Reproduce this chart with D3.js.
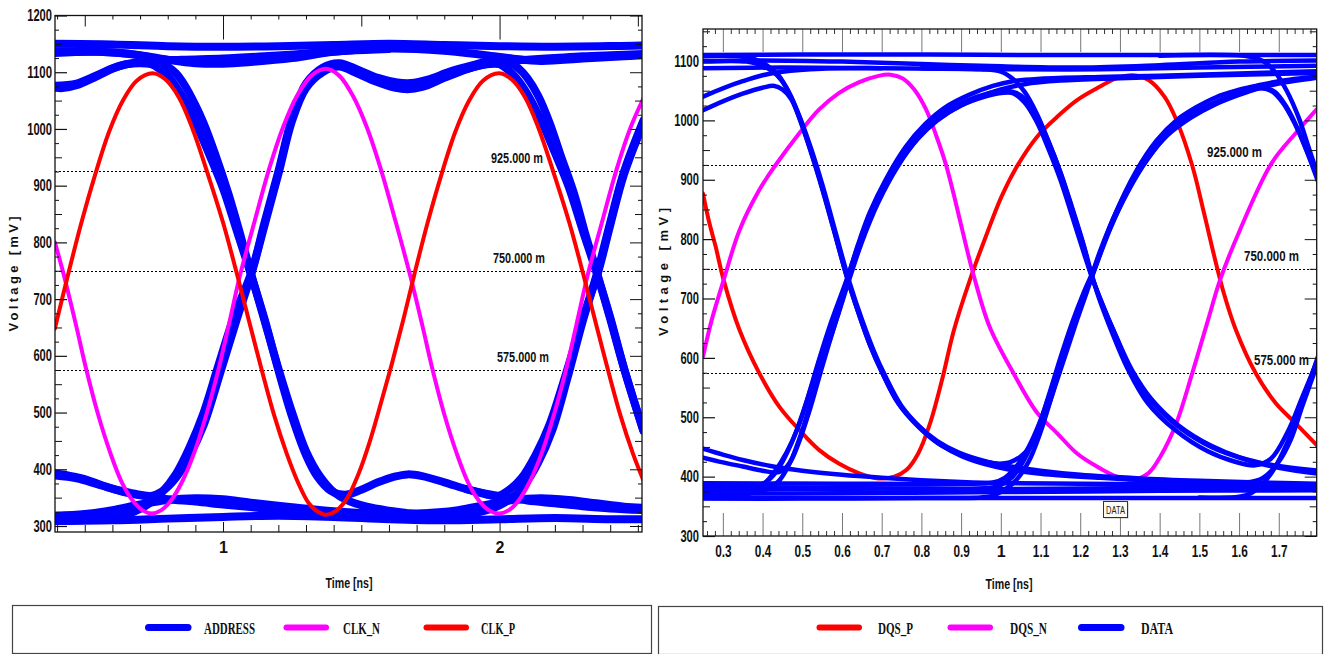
<!DOCTYPE html>
<html><head><meta charset="utf-8">
<script src="https://cdn.jsdelivr.net/npm/d3@7"></script>
<style>
body{margin:0;background:#fff;}
svg{display:block;}
</style></head><body>
<svg id="chart" width="1325" height="654"></svg>
<script>
// ---------------- DATA ----------------
const leftTimeTicks = [1, 2];
const leftVoltTicks = [300, 400, 500, 600, 700, 800, 900, 1000, 1100, 1200];
const rightTimeTicks = [0.3, 0.4, 0.5, 0.6, 0.7, 0.8, 0.9, 1, 1.1, 1.2, 1.3, 1.4, 1.5, 1.6, 1.7];
const rightVoltTicks = [300, 400, 500, 600, 700, 800, 900, 1000, 1100];
const refLevels = [925, 750, 575];
const refLabels = ["925.000 m", "750.000 m", "575.000 m"];
const leftLegend = ["ADDRESS", "CLK_N", "CLK_P"];
const rightLegend = ["DQS_P", "DQS_N", "DATA"];
const xTitle = "Time [ns]";
const yTitle = "Voltage [mV]";
const markerLabel = "DATA";

// left chart: [time ns, voltage mV]
const clkP = [[0.392,648],[0.438,740],[0.488,835],[0.538,920],[0.588,995],[0.638,1050],[0.688,1085],[0.745,1098],[0.79,1088],[0.84,1056],[0.89,1000],[0.94,928],[1.0,835],[1.05,745],[1.1,650],[1.14,575],[1.185,495],[1.23,428],[1.27,378],[1.31,340],[1.34,326],[1.371,320],[1.41,327],[1.45,350],[1.49,392],[1.53,448],[1.57,515],[1.61,585],[1.65,660],[1.69,740],[1.74,835],[1.79,920],[1.84,995],[1.89,1050],[1.94,1085],[1.997,1098],[2.042,1088],[2.092,1056],[2.142,1000],[2.192,928],[2.252,835],[2.302,745],[2.352,650],[2.392,575],[2.437,495],[2.482,428],[2.522,378]];
const clkN = [[0.392,800],[0.423,745],[0.468,655],[0.506,575],[0.548,497],[0.593,428],[0.633,378],[0.673,345],[0.708,328],[0.742,322],[0.777,328],[0.812,345],[0.852,378],[0.895,428],[0.94,497],[0.983,575],[1.021,655],[1.063,745],[1.113,835],[1.167,930],[1.217,1003],[1.267,1058],[1.32,1094],[1.371,1106],[1.42,1094],[1.47,1058],[1.52,1003],[1.57,930],[1.625,835],[1.675,745],[1.72,655],[1.758,575],[1.8,497],[1.845,428],[1.885,378],[1.925,345],[1.96,328],[1.997,322],[2.034,328],[2.069,345],[2.109,378],[2.152,428],[2.197,497],[2.24,575],[2.278,655],[2.32,745],[2.37,835],[2.424,930],[2.474,1003],[2.524,1058]];
const addressTraces = [
  [[0.39,1150],[0.6,1149],[0.8,1146],[1.0,1145],[1.2,1146],[1.4,1148],[1.6,1150],[1.8,1148],[2.0,1146],[2.2,1145],[2.52,1147]],
  [[0.39,1134],[0.55,1136],[0.7,1130],[0.8,1122],[0.9,1116],[1.0,1115],[1.1,1118],[1.25,1125],[1.4,1136],[1.6,1142],[1.8,1138],[1.95,1130],[2.05,1124],[2.15,1120],[2.3,1124],[2.45,1128],[2.52,1130]],
  [[0.39,309],[0.6,310],[0.8,313],[1.0,316],[1.2,318],[1.4,316],[1.6,312],[1.8,310],[2.0,312],[2.2,314],[2.4,312],[2.52,312]],
  [[0.39,318],[0.5,321],[0.6,328],[0.7,338],[0.8,346],[0.9,349],[1.0,347],[1.1,341],[1.25,333],[1.4,326],[1.55,322],[1.7,322],[1.85,328],[1.95,337],[2.05,346],[2.15,349],[2.25,346],[2.35,340],[2.45,334],[2.52,332]],
  [[0.39,1073],[0.42,1072],[0.47,1077],[0.54,1092],[0.6,1106],[0.65,1114],[0.7,1116],[0.74,1114],[0.77,1106],[0.8,1094],[0.83,1075],[0.87,1042],[0.9,1012],[0.95,955],[1.0,895],[1.05,820],[1.103,740],[1.15,665],[1.2,575],[1.25,492],[1.3,425],[1.34,388],[1.39,362],[1.44,355],[1.5,364],[1.56,377],[1.62,387],[1.667,391],[1.72,388],[1.8,377],[1.88,365],[1.95,356],[1.99,352],[2.03,362],[2.08,385],[2.13,425],[2.18,478],[2.24,568],[2.3,665],[2.355,745],[2.4,830],[2.45,920],[2.52,1010]],
  [[0.39,392],[0.42,391],[0.47,386],[0.51,381],[0.55,374],[0.6,366],[0.65,360],[0.7,355],[0.74,353],[0.78,361],[0.83,385],[0.88,425],[0.93,478],[0.99,570],[1.05,665],[1.103,745],[1.15,830],[1.2,920],[1.25,1015],[1.3,1072],[1.36,1100],[1.42,1110],[1.48,1099],[1.55,1084],[1.62,1073],[1.667,1070],[1.72,1074],[1.8,1090],[1.88,1105],[1.95,1114],[2.0,1114],[2.03,1104],[2.06,1090],[2.1,1062],[2.15,1015],[2.2,958],[2.25,898],[2.3,822],[2.355,740],[2.4,668],[2.45,578],[2.52,468]],
  [[0.39,1137],[0.55,1136],[0.68,1131],[0.75,1124],[0.8,1110],[0.83,1098],[0.86,1078],[0.9,1042],[0.93,1010],[0.97,958],[1.02,885],[1.06,818],[1.103,742],[1.15,662],[1.2,578],[1.25,500],[1.3,432],[1.35,388],[1.4,360],[1.45,345],[1.52,334],[1.6,327],[1.7,321],[1.8,318],[1.9,322],[1.98,332],[2.04,348],[2.09,372],[2.14,412],[2.19,468],[2.245,560],[2.3,660],[2.355,750],[2.4,835],[2.45,925],[2.52,1015]],
  [[0.39,309],[0.55,312],[0.65,320],[0.7,330],[0.74,342],[0.78,360],[0.83,392],[0.88,440],[0.93,500],[0.98,578],[1.04,670],[1.103,748],[1.15,835],[1.2,925],[1.25,1020],[1.3,1080],[1.36,1108],[1.42,1116],[1.49,1104],[1.56,1090],[1.63,1082],[1.68,1081],[1.74,1087],[1.82,1101],[1.9,1112],[1.97,1120],[2.04,1116],[2.07,1106],[2.1,1090],[2.14,1058],[2.18,1012],[2.22,955],[2.27,885],[2.31,815],[2.355,742],[2.4,665],[2.45,578],[2.52,468]],
  [[0.39,389],[0.47,384],[0.55,373],[0.65,359],[0.74,351],[0.8,347],[0.9,343],[1.0,338],[1.15,331],[1.3,325],[1.45,320],[1.6,317]],
  [[0.39,1076],[0.47,1080],[0.54,1094],[0.6,1107],[0.65,1114],[0.72,1119],[0.85,1122],[1.0,1124],[1.15,1128],[1.3,1133],[1.45,1138],[1.6,1141]],
  [[1.88,365],[1.95,357],[2.02,351],[2.1,345],[2.2,340],[2.3,335],[2.4,331],[2.52,328]],
  [[1.88,1106],[1.95,1114],[2.02,1119],[2.1,1122],[2.2,1125],[2.3,1128],[2.4,1130],[2.52,1132]]
];

// right chart: [time ns, voltage mV]
const dqsP = [[0.25,877],[0.265,830],[0.282,787],[0.302,731],[0.342,647],[0.392,574],[0.442,518],[0.492,479],[0.542,445],[0.592,422],[0.642,406],[0.692,397],[0.732,400],[0.762,411],[0.792,439],[0.822,490],[0.852,563],[0.882,647],[0.922,731],[0.962,804],[1.002,872],[1.042,924],[1.092,973],[1.142,1006],[1.192,1034],[1.242,1054],[1.292,1071],[1.332,1076],[1.372,1068],[1.412,1040],[1.442,1001],[1.482,924],[1.512,843],[1.542,759],[1.562,708],[1.592,647],[1.642,574],[1.692,524],[1.742,490],[1.8,450]];
const dqsN = [[0.25,602],[0.272,664],[0.302,731],[0.342,815],[0.392,883],[0.432,924],[0.492,978],[0.542,1018],[0.592,1046],[0.642,1064],[0.692,1075],[0.722,1077],[0.752,1071],[0.782,1052],[0.812,1018],[0.837,975],[0.862,925],[0.887,860],[0.912,790],[0.932,738],[0.972,652],[1.032,574],[1.092,507],[1.142,473],[1.192,439],[1.242,417],[1.292,400],[1.332,395],[1.372,406],[1.402,434],[1.442,490],[1.482,574],[1.522,664],[1.552,731],[1.602,815],[1.682,928],[1.742,978],[1.8,1022]];
const dataTraces = [
  [[0.25,1110],[0.5,1111],[0.8,1111],[1.1,1110],[1.4,1110],[1.8,1110]],
  [[0.25,1100],[0.4,1101],[0.6,1099],[0.8,1095],[1.0,1091],[1.2,1089],[1.4,1093],[1.6,1099],[1.8,1101]],
  [[0.25,1088],[0.45,1089],[0.7,1088],[1.0,1086],[1.25,1086],[1.5,1089],[1.8,1092]],
  [[0.25,1040],[0.3,1054],[0.35,1066],[0.4,1076],[0.45,1082],[0.55,1087],[0.7,1088]],
  [[0.25,1017],[0.3,1032],[0.35,1045],[0.4,1055],[0.43,1058],[0.45,1052],[0.472,1036],[0.502,986],[0.532,925],[0.562,857],[0.587,797],[0.612,737],[0.642,675],[0.672,619],[0.702,574],[0.742,523],[0.792,484],[0.842,456],[0.892,439],[0.942,428],[0.99,422],[1.022,424],[1.05,434],[1.08,455],[1.11,500],[1.142,563],[1.192,664],[1.227,731],[1.242,760],[1.282,833],[1.342,916],[1.392,966],[1.442,1000],[1.492,1022],[1.542,1039],[1.592,1050],[1.642,1058],[1.7,1066],[1.8,1074]],
  [[0.25,1108],[0.34,1108],[0.38,1103],[0.41,1093],[0.44,1076],[0.47,1042],[0.5,992],[0.53,931],[0.56,864],[0.585,803],[0.61,742],[0.64,679],[0.67,623],[0.7,577],[0.74,526],[0.79,487],[0.84,460],[0.89,442],[0.94,430],[1.0,420],[1.1,410],[1.2,403],[1.35,397],[1.5,393],[1.65,390],[1.8,388]],
  [[0.25,1099],[0.36,1099],[0.4,1092],[0.43,1080],[0.46,1055],[0.49,1012],[0.52,957],[0.55,893],[0.575,833],[0.6,772],[0.62,725],[0.65,665],[0.68,612],[0.71,568],[0.75,519],[0.8,481],[0.85,453],[0.9,435],[0.96,421],[1.02,412],[1.1,405],[1.25,398],[1.4,393],[1.55,390],[1.62,390],[1.66,398],[1.7,425],[1.73,462],[1.76,520],[1.8,595]],
  [[0.25,366],[0.3,366],[0.34,367],[0.37,372],[0.4,385],[0.43,408],[0.46,440],[0.49,484],[0.52,545],[0.55,610],[0.58,668],[0.6,705],[0.612,730],[0.64,790],[0.67,845],[0.71,900],[0.76,955],[0.81,994],[0.86,1022],[0.92,1043],[0.98,1058],[1.03,1066],[1.1,1070],[1.25,1073],[1.4,1075],[1.6,1079],[1.8,1083]],
  [[0.25,385],[0.35,383],[0.39,385],[0.42,397],[0.45,425],[0.48,468],[0.51,525],[0.54,592],[0.57,655],[0.6,710],[0.615,738],[0.65,805],[0.69,868],[0.74,930],[0.79,975],[0.85,1010],[0.91,1032],[0.97,1046],[1.01,1050],[1.04,1046],[1.06,1036],[1.09,1008],[1.12,964],[1.15,913],[1.18,852],[1.21,787],[1.227,745],[1.245,705],[1.28,643],[1.32,581],[1.37,524],[1.44,478],[1.52,443],[1.59,425],[1.64,419],[1.68,430],[1.72,472],[1.76,535],[1.8,600]],
  [[0.25,375],[0.35,374],[0.4,376],[0.44,392],[0.47,425],[0.5,478],[0.53,545],[0.56,612],[0.59,672],[0.615,725],[0.65,795],[0.69,860],[0.74,922],[0.79,968],[0.84,1000],[0.9,1025],[0.96,1040],[1.0,1046],[1.03,1046],[1.06,1030],[1.09,998],[1.12,952],[1.15,900],[1.18,838],[1.21,775],[1.23,735],[1.25,700],[1.29,636],[1.33,577],[1.38,527],[1.45,483],[1.53,450],[1.62,428],[1.7,415],[1.8,405]],
  [[0.25,447],[0.3,437],[0.35,428],[0.42,418],[0.5,410],[0.6,403],[0.7,398],[0.8,394],[0.9,391],[1.0,389],[1.2,388],[1.4,387],[1.6,386],[1.8,386]],
  [[0.25,432],[0.3,424],[0.35,417],[0.4,410],[0.43,407],[0.45,410],[0.47,425],[0.49,455],[0.52,515],[0.55,585],[0.58,652],[0.612,722],[0.64,780],[0.68,850],[0.72,903],[0.77,953],[0.82,990],[0.88,1018],[0.94,1038],[1.0,1052],[1.06,1061],[1.15,1067],[1.3,1071],[1.5,1075],[1.8,1080]],
  [[0.25,363],[0.5,363],[0.8,364],[0.95,365],[0.98,368],[1.01,378],[1.04,395],[1.07,425],[1.1,475],[1.13,540],[1.16,605],[1.19,665],[1.227,735],[1.25,780],[1.29,845],[1.34,910],[1.39,958],[1.44,992],[1.5,1018],[1.56,1036],[1.62,1050],[1.66,1055],[1.69,1048],[1.72,1022],[1.75,982],[1.775,940],[1.8,895]],
  [[0.25,378],[0.5,379],[0.8,380],[0.97,381],[1.0,386],[1.03,400],[1.06,430],[1.09,475],[1.12,535],[1.15,600],[1.18,660],[1.21,712],[1.235,750],[1.27,810],[1.32,880],[1.37,935],[1.42,975],[1.48,1005],[1.54,1027],[1.6,1043],[1.65,1054],[1.7,1062],[1.8,1072]],
  [[1.4,1109],[1.62,1108],[1.66,1100],[1.69,1082],[1.72,1050],[1.75,1005],[1.775,955],[1.8,905]],
  [[0.8,1088],[0.95,1086],[1.0,1082],[1.03,1070],[1.06,1048],[1.09,1012],[1.12,965],[1.15,912],[1.18,850],[1.21,785],[1.227,742],[1.25,700],[1.29,637],[1.33,580],[1.38,530],[1.45,485],[1.53,452],[1.6,433],[1.68,420],[1.8,410]],
  [[1.5,365],[1.6,366],[1.63,372],[1.66,388],[1.69,415],[1.72,455],[1.75,505],[1.775,555],[1.8,605]],
  [[0.25,389],[0.6,388],[0.9,388],[0.98,390],[1.01,398],[1.04,418],[1.07,450],[1.1,495],[1.13,553],[1.16,615],[1.19,672],[1.22,722],[1.245,765],[1.28,825],[1.33,895],[1.38,945],[1.43,985],[1.49,1013],[1.55,1033],[1.61,1047],[1.65,1054],[1.68,1050],[1.71,1030],[1.74,995],[1.77,950],[1.8,905]],
  [[0.25,364],[0.8,364],[1.3,364],[1.8,364]],
  [[0.25,371],[0.6,372],[1.0,374],[1.4,376],[1.8,377]],
  [[0.25,383],[0.6,381],[1.0,379],[1.4,381],[1.8,383]]
];

// ---------------- DRAWING ----------------
const NARROW = '"Liberation Sans Narrow","Liberation Sans",Arial,sans-serif';
const SERIF = '"Liberation Serif","Times New Roman",serif';
const BLUE = "#0000ff", RED = "#ff0000", MAGENTA = "#ff00ff";
const svg = d3.select("#chart");
const defs = svg.append("defs");

function fitText(sel, perDigit, perDot) {
  sel.each(function () {
    const s = this.textContent;
    if (s.length < 2) return;
    const digits = s.replace(/[^0-9]/g, "").length;
    const dots = (s.match(/\./g) || []).length;
    this.setAttribute("textLength", digits * perDigit + dots * perDot);
    this.setAttribute("lengthAdjust", "spacingAndGlyphs");
  });
}

function drawPanel(p) {
  const x = d3.scaleLinear().domain(p.tDomain).range([p.left, p.right]);
  const y = d3.scaleLinear().domain(p.vDomain).range([p.bottom, p.top]);
  const g = svg.append("g");
  defs.append("clipPath").attr("id", "clip" + p.id)
    .append("rect").attr("x", p.left).attr("y", p.top)
    .attr("width", p.right - p.left).attr("height", p.bottom - p.top);

  g.append("g").selectAll("line").data(refLevels).join("line")
    .attr("x1", p.left).attr("x2", p.right)
    .attr("y1", d => Math.round(y(d)) + 0.5).attr("y2", d => Math.round(y(d)) + 0.5)
    .attr("stroke", "#000").attr("stroke-width", 1).attr("stroke-dasharray", "2,2");

  const line = d3.line().x(d => x(d[0])).y(d => y(d[1])).curve(d3.curveCatmullRom.alpha(0.5));
  const plot = g.append("g").attr("clip-path", `url(#clip${p.id})`);
  p.series.forEach(s => {
    plot.append("g").selectAll("path").data(s.traces).join("path")
      .attr("d", line).attr("fill", "none").attr("stroke", s.color)
      .attr("stroke-width", s.width).attr("stroke-linejoin", "round").attr("stroke-linecap", "round");
  });

  g.append("g").selectAll("text").data(refLevels).join("text")
    .attr("x", (d, i) => p.refLabelX[i]).attr("y", d => y(d) - 8)
    .attr("font-family", NARROW).attr("font-weight", "bold").attr("font-size", 15).attr("fill", "#111")
    .attr("textLength", p.refLabelW).attr("lengthAdjust", "spacingAndGlyphs")
    .text((d, i) => refLabels[i]);

  const vMinor = d3.range(Math.ceil(p.vDomain[0] / 25), Math.floor(p.vDomain[1] / 25) + 1).map(k => k * 25);
  const vLen = v => (v % 100 === 0 ? 12 : v % 50 === 0 ? 7 : 4);

  const ax = g.append("g").attr("transform", `translate(${p.left},0)`)
    .call(d3.axisLeft(y).tickValues(p.voltTicks).tickSize(-12).tickPadding(p.yPad).tickFormat(d3.format("d")));
  ax.select(".domain").remove();
  ax.attr("font-family", NARROW).attr("font-size", 16);
  ax.selectAll("line").attr("stroke", "#111").attr("stroke-width", 1.2);
  ax.selectAll("text").attr("font-weight", "bold").attr("fill", "#111").call(fitText, 6.2, 3.4);
  const axm = g.append("g").attr("transform", `translate(${p.left},0)`)
    .call(d3.axisLeft(y).tickValues(vMinor.filter(v => v % 100 !== 0)).tickSize(0).tickFormat(""));
  axm.select(".domain").remove();
  axm.selectAll(".tick line").attr("x2", d => vLen(d)).attr("stroke", "#111");
  const axr = g.append("g").attr("transform", `translate(${p.right},0)`)
    .call(d3.axisRight(y).tickValues(vMinor).tickSize(0).tickFormat(""));
  axr.select(".domain").remove();
  axr.selectAll(".tick line").attr("x2", d => -vLen(d)).attr("stroke", "#111");

  const bx = g.append("g").attr("transform", `translate(0,${p.bottom})`)
    .call(d3.axisBottom(x).tickValues(p.timeTicks).tickSize(0).tickPadding(p.xPad).tickFormat(d => String(d)));
  bx.select(".domain").remove();
  bx.attr("font-family", NARROW).attr("font-size", 16);
  bx.selectAll("text").attr("font-weight", "bold").attr("fill", "#111").call(fitText, 6.4, 3.6);
  const tMinor = p.tMinor;
  const bt = g.append("g").attr("transform", `translate(0,${p.bottom})`)
    .call(d3.axisBottom(x).tickValues(tMinor).tickSize(0).tickFormat(""));
  bt.select(".domain").remove();
  bt.selectAll(".tick line").attr("y2", d => -p.bottomLen(d)).attr("stroke", d => p.tickCol(d));
  const tt = g.append("g").attr("transform", `translate(0,${p.top})`)
    .call(d3.axisTop(x).tickValues(tMinor).tickSize(0).tickFormat(""));
  tt.select(".domain").remove();
  tt.selectAll(".tick line").attr("y2", d => p.topLen(d)).attr("stroke", d => p.tickCol(d));

  g.append("rect").attr("x", p.left).attr("y", p.top)
    .attr("width", p.right - p.left).attr("height", p.bottom - p.top)
    .attr("fill", "none").attr("stroke", "#111").attr("stroke-width", 1.3);

  g.append("text").attr("x", p.xTitleX).attr("y", p.xTitleY).attr("text-anchor", "middle")
    .attr("font-family", NARROW).attr("font-weight", "bold").attr("font-size", 15).attr("fill", "#111")
    .attr("textLength", 47).attr("lengthAdjust", "spacingAndGlyphs").text(xTitle);
  g.append("text").attr("transform", `translate(${p.yTitleX},${p.yTitleY}) rotate(-90)`)
    .attr("text-anchor", "middle").attr("dominant-baseline", "central")
    .attr("font-family", '"Liberation Sans",Arial,sans-serif').attr("font-weight", "bold").attr("font-size", 13).attr("fill", "#111")
    .attr("textLength", p.yTitleLen).attr("lengthAdjust", "spacing").text(yTitle);
  return { x, y, g };
}

// ---- Left panel ----
const leftMinor = d3.range(4, 26).map(k => k / 10);
drawPanel({
  id: "L", left: 55, right: 642, top: 15.5, bottom: 532,
  tDomain: [0.3924, 2.515], vDomain: [289.42, 1200],
  voltTicks: leftVoltTicks, timeTicks: leftTimeTicks, tMinor: leftMinor,
  yPad: 3, xPad: 10,
  bottomLen: d => (Math.abs(d - Math.round(d)) < 1e-6 ? 10 : 7),
  topLen: d => (Math.abs(d - Math.round(d)) < 1e-6 ? 24 : Math.abs(d * 2 - Math.round(d * 2)) < 1e-6 ? 11 : 4),
  tickCol: d => "#111",
  refLabelX: [491, 493, 497], refLabelW: 52,
  xTitleX: 349, xTitleY: 588, yTitleX: 13, yTitleY: 274, yTitleLen: 115,
  series: [
    { traces: addressTraces, color: BLUE, width: 8 },
    { traces: [clkN], color: MAGENTA, width: 4 },
    { traces: [clkP], color: RED, width: 4 }
  ]
});

// ---- Right panel ----
const rightMinor = d3.range(13, 90).map(k => k / 50);
drawPanel({
  id: "R", left: 703, right: 1316.7, top: 29, bottom: 536,
  tDomain: [0.25, 1.7955], vDomain: [300, 1153.9],
  voltTicks: rightVoltTicks, timeTicks: rightTimeTicks, tMinor: rightMinor,
  yPad: 4, xPad: 10,
  bottomLen: d => (Math.abs(d * 10 - Math.round(d * 10)) < 1e-6 ? 23 : 5),
  topLen: d => (Math.abs(d * 10 - Math.round(d * 10)) < 1e-6 ? 23 : 5),
  tickCol: d => (Math.abs(d * 10 - Math.round(d * 10)) < 1e-6 ? "#777" : "#333"),
  refLabelX: [1207, 1244, 1254], refLabelW: 55,
  xTitleX: 1009, xTitleY: 589, yTitleX: 663, yTitleY: 272, yTitleLen: 128,
  series: [
    { traces: [dqsP], color: RED, width: 4 },
    { traces: [dqsN], color: MAGENTA, width: 4 },
    { traces: dataTraces, color: BLUE, width: 4.5 }
  ]
});

// DATA marker box
const mk = svg.append("g");
mk.append("rect").attr("x", 1104.5).attr("y", 502.5).attr("width", 24).attr("height", 16)
  .attr("fill", "#777").attr("opacity", 0.5);
mk.append("rect").attr("x", 1103.5).attr("y", 501.5).attr("width", 24).attr("height", 16)
  .attr("fill", "#fffdf0").attr("stroke", "#333").attr("stroke-width", 1);
mk.append("text").attr("x", 1115.5).attr("y", 514).attr("text-anchor", "middle")
  .attr("font-family", NARROW).attr("font-size", 11).attr("fill", "#222")
  .attr("textLength", 19).attr("lengthAdjust", "spacingAndGlyphs").text(markerLabel);

// ---- Legends ----
function drawLegend(box, items, colors, widths, lineX, textX, textW) {
  const g = svg.append("g");
  g.append("rect").attr("x", box[0]).attr("y", box[1]).attr("width", box[2]).attr("height", box[3])
    .attr("fill", "#fff").attr("stroke", "#444").attr("stroke-width", 1.2);
  const it = g.selectAll("g.item").data(items).join("g").attr("class", "item");
  it.append("line").attr("x1", (d, i) => lineX[i] + 3.5).attr("x2", (d, i) => lineX[i] + 43)
    .attr("y1", 627.5).attr("y2", 627.5)
    .attr("stroke", (d, i) => colors[i]).attr("stroke-width", (d, i) => widths[i]).attr("stroke-linecap", "round");
  it.append("text").attr("x", (d, i) => textX[i]).attr("y", 634)
    .attr("font-family", SERIF).attr("font-weight", "bold").attr("font-size", 17).attr("fill", "#111")
    .attr("textLength", (d, i) => textW[i]).attr("lengthAdjust", "spacingAndGlyphs").text(d => d);
}
drawLegend([12.5, 605.5, 639, 48], leftLegend, [BLUE, MAGENTA, RED], [7, 6, 6],
  [145, 283, 423], [204, 343, 481], [51, 37, 34]);
drawLegend([658.5, 606.5, 664, 48], rightLegend, [RED, MAGENTA, BLUE], [6, 6, 7],
  [816, 947, 1078], [878, 1010, 1141], [35, 37, 32]);
</script>
</body></html>
